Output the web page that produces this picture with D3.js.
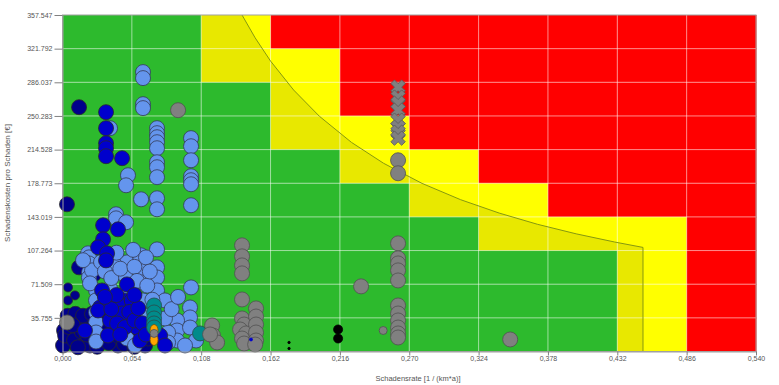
<!DOCTYPE html>
<html>
<head>
<meta charset="utf-8">
<script src="https://cdn.jsdelivr.net/npm/d3@7"></script>
<style>
  body { margin: 0; background: #fff; }
  svg { display: block; font-family: "Liberation Sans", Arial, sans-serif; }
</style>
</head>
<body>
<svg id="chart"></svg>
<script>
// axis ticks (rate in 1/(km*a), costs in EUR)
const xTicks = [0, 0.054, 0.108, 0.162, 0.216, 0.270, 0.324, 0.378, 0.432, 0.486, 0.540];
const yTicks = [35755, 71509, 107264, 143019, 178773, 214528, 250283, 286037, 321792, 357547];

// risk matrix, top row first, one letter per column (g = green, y = yellow, r = red)
const zoneRows = [
  "ggyrrrrrrr",
  "ggyyrrrrrr",
  "gggyrrrrrr",
  "gggyyrrrrr",
  "ggggyyrrrr",
  "gggggyyrrr",
  "ggggggyyyr",
  "ggggggggyr",
  "ggggggggyr",
  "ggggggggyr"
];

// limit line
const limitCurve = [
  [0.1398, 357547], [0.150, 333300], [0.162, 308600], [0.180, 277800], [0.200, 250000],
  [0.225, 222200], [0.250, 200000], [0.280, 178600], [0.310, 161300], [0.340, 147100],
  [0.370, 135100], [0.400, 125000], [0.430, 116300], [0.452, 110600], [0.452, 0]
];

// points [rate, costs]
const navy = [
  [0.0129, 259600], [0.0035, 156400], [0.0129, 89400],
  [0.0012, 22300], [0.0027, 11700], [0.0058, 33000], [0.0074, 19200], [0.0105, 7400],
  [0.0136, 26600], [0.0167, 14900], [0.0199, 34100], [0.0214, 6400], [0.0292, 27700],
  [0.0323, 11700], [0.0386, 20200], [0.0432, 6400], [0.0541, 16000], [0.0643, 6400],
  [0.0666, 13800], [0.0074, 37200], [0.0004, 6400],
  [0.0020, 17000], [0.0050, 26000], [0.0090, 12000], [0.0120, 34000], [0.0150, 21000],
  [0.0180, 8000], [0.0210, 26000], [0.0240, 16000], [0.0270, 5000], [0.0300, 36000],
  [0.0330, 24000], [0.0360, 9000], [0.0400, 30000], [0.0440, 16000], [0.0480, 8000],
  [0.0520, 28000], [0.0560, 5000], [0.0600, 20000], [0.0040, 38000], [0.0100, 40000],
  [0.0160, 38000], [0.0230, 40000], [0.0120, 4500], [0.0080, 28000], [0.0190, 18000]
];
const navySmall = [[0.0261, 79800], [0.0043, 68100], [0.0097, 59600], [0.0043, 54300]];

const cornflower = [
  [0.0627, 296900], [0.0627, 290500], [0.0627, 262800], [0.0627, 258600],
  [0.0736, 237300], [0.0736, 232000], [0.0736, 227700], [0.0736, 222400], [0.0736, 216000],
  [0.0736, 201100], [0.0736, 195800], [0.0736, 185200], [0.0736, 162800], [0.0736, 151100],
  [0.1001, 226700], [0.1001, 218100], [0.1001, 203200], [0.1001, 186200], [0.1001, 182000],
  [0.1001, 177700], [0.1001, 155400],
  [0.0370, 237300], [0.0510, 187300], [0.0495, 176600], [0.0612, 161700],
  [0.0417, 145800], [0.0417, 141500], [0.0495, 137300],
  [0.0736, 108500], [0.0612, 102200], [0.0199, 104300],
  [0.0206, 100000], [0.0206, 93600], [0.0206, 84100], [0.0206, 78700],
  [0.0502, 94700], [0.0604, 96800], [0.0604, 88300], [0.0736, 89400], [0.0736, 78700], [0.0736, 64900],
  [0.1001, 68100], [0.0993, 46800], [0.0993, 36200], [0.0892, 33000], [0.0892, 22300], [0.0892, 11700],
  [0.0822, 20200], [0.0993, 25500], [0.1040, 11700],
  [0.0261, 64900], [0.0261, 54300], [0.0261, 41500], [0.0261, 30900], [0.0261, 20200], [0.0261, 10600],
  [0.0502, 62800], [0.0502, 48900], [0.0502, 35100], [0.0502, 24500], [0.0502, 13800],
  [0.0627, 73400], [0.0627, 54300], [0.0666, 38300], [0.0798, 54300], [0.0798, 35100], [0.0822, 9600],
  [0.0230, 86200], [0.0214, 72400], [0.0409, 91500], [0.0487, 80900], [0.0370, 67000],
  [0.0565, 6400], [0.0954, 6400],
  [0.0300, 95000], [0.0330, 85000], [0.0380, 78000], [0.0420, 105000], [0.0450, 88000],
  [0.0550, 108000], [0.0560, 90000], [0.0580, 75000], [0.0650, 100000], [0.0660, 70000],
  [0.0680, 85000], [0.0700, 55000], [0.0160, 97000], [0.0850, 45000], [0.0900, 58000]
];

const mediumBlue = [
  [0.0339, 254300], [0.0339, 237300], [0.0339, 221300], [0.0339, 216000], [0.0339, 207500], [0.0464, 205400],
  [0.0316, 134100], [0.0432, 129800], [0.0316, 119200], [0.0277, 110700], [0.0347, 104300], [0.0339, 96800],
  [0.0502, 71300], [0.0479, 54300], [0.0308, 64900], [0.0432, 51100], [0.0464, 40400], [0.0370, 33000],
  [0.0425, 29800], [0.0580, 25500], [0.0604, 11700], [0.0292, 46800], [0.0682, 22300], [0.0760, 17000],
  [0.0798, 6400], [0.0354, 17000], [0.0175, 22300], [0.0277, 43600], [0.0539, 54300], [0.0487, 25900],
  [0.0380, 45000], [0.0450, 18000], [0.0520, 42000], [0.0560, 33000], [0.0590, 46000],
  [0.0620, 30000], [0.0650, 18000], [0.0420, 60000], [0.0330, 58000], [0.0560, 60000]
];

const teal = [[0.0713, 48900], [0.0713, 41500], [0.0713, 35100], [0.0713, 29800], [0.0713, 25500], [0.1071, 19200]];
const orange = [[0.0713, 22300], [0.0713, 12800]];

const gray = [
  [0.0900, 256400], [0.0035, 30900],
  [0.1165, 27700], [0.1172, 17000], [0.1204, 9600], [0.1149, 18100],
  [0.1398, 112800], [0.1398, 101100], [0.1398, 91500], [0.1398, 83000], [0.1398, 55300],
  [0.1398, 35100], [0.1414, 28700], [0.1383, 23400], [0.1430, 19200], [0.1398, 13800], [0.1414, 8500],
  [0.1507, 45800], [0.1507, 37200], [0.1507, 28700], [0.1507, 20200], [0.1507, 11700], [0.1500, 7400],
  [0.2325, 69200],
  [0.2613, 203200], [0.2613, 189400], [0.2613, 114900], [0.2613, 99000], [0.2613, 93600], [0.2613, 86200],
  [0.2613, 75500], [0.2613, 48900], [0.2613, 40400], [0.2613, 33000], [0.2613, 25500], [0.2613, 19200],
  [0.2613, 14900],
  [0.3486, 12800]
];
const graySmall = [[0.2497, 22300], [0.0713, 19200]];
const grayX = [[0.2613, 280900], [0.2613, 270300], [0.2613, 263900], [0.2613, 256400],
               [0.2613, 245800], [0.2613, 238400], [0.2613, 233000], [0.2613, 226700]];
const black = [[0.2146, 23400], [0.2146, 13800]];
const blackTiny = [[0.1764, 9600], [0.1764, 3200]];
const blueTiny = [[0.1468, 12800]];

const W = 779, H = 385;
const svg = d3.select("#chart").attr("width", W).attr("height", H);

const x = d3.scaleLinear().domain([0, 0.540]).range([62.5, 756]);
const y = d3.scaleLinear().domain([0, 357547]).range([351.5, 15]);

const loc = d3.formatLocale({ decimal: ",", thousands: ".", grouping: [3], currency: ["", " €"] });
const fmtX = loc.format(".3f");
const fmtY = loc.format(",.0f");

const zoneColor = { g: "#32cd32", y: "#ffff00", r: "#ff0000" };
const yBounds = [0].concat(yTicks);

// zone cells
const cells = [];
zoneRows.forEach((row, i) => {
  row.split("").forEach((c, j) => {
    cells.push({ x0: xTicks[j], x1: xTicks[j + 1], y0: yBounds[9 - i], y1: yBounds[10 - i], c: c });
  });
});
svg.append("g").selectAll("rect")
  .data(cells)
  .enter()
  .append("rect")
  .attr("x", d => x(d.x0))
  .attr("y", d => y(d.y1))
  .attr("width", d => x(d.x1) - x(d.x0) + 0.5)
  .attr("height", d => y(d.y0) - y(d.y1) + 0.5)
  .attr("fill", d => zoneColor[d.c]);

// shaded area under the limit line
const areaPts = [[0, 0], [0, 357547]].concat(limitCurve);
svg.append("path")
  .attr("d", d3.line().x(d => x(d[0])).y(d => y(d[1]))(areaPts) + "Z")
  .attr("fill", "#000")
  .attr("fill-opacity", 0.09);

// grid
const grid = svg.append("g").attr("stroke", "#fff").attr("stroke-opacity", 0.55);
grid.selectAll("line.v").data(xTicks.slice(1, -1)).enter().append("line")
  .attr("x1", d => x(d)).attr("x2", d => x(d))
  .attr("y1", y(0)).attr("y2", y(357547));
grid.selectAll("line.h").data(yTicks.slice(0, -1)).enter().append("line")
  .attr("x1", x(0)).attr("x2", x(0.540))
  .attr("y1", d => y(d)).attr("y2", d => y(d));

// limit line
svg.append("path")
  .attr("d", d3.line().x(d => x(d[0])).y(d => y(d[1]))(limitCurve))
  .attr("fill", "none")
  .attr("stroke", "#86980f")
  .attr("stroke-width", 1);

// frame
svg.append("rect")
  .attr("x", x(0)).attr("y", y(357547))
  .attr("width", x(0.540) - x(0)).attr("height", y(0) - y(357547))
  .attr("fill", "none").attr("stroke", "#a0a0a0");

// points
const pts = svg.append("g");
function dots(data, fill, r, stroke) {
  pts.append("g").selectAll("circle")
    .data(data)
    .enter()
    .append("circle")
    .attr("cx", d => x(d[0]))
    .attr("cy", d => y(d[1]))
    .attr("r", r)
    .attr("fill", fill)
    .attr("stroke", stroke || "#2a2a2a")
    .attr("stroke-width", 0.8);
}
dots(navy, "#00008b", 7.5);
dots(navySmall, "#00008b", 4.5);
dots(cornflower, "#6495ed", 7.5, "#333a55");
dots(mediumBlue, "#0000cd", 7.5);
dots(teal, "#008b8b", 7.5, "#2a4a4a");
dots(gray, "#808080", 7.5, "#505050");

pts.append("g").selectAll("ellipse")
  .data(orange)
  .enter()
  .append("ellipse")
  .attr("cx", d => x(d[0]))
  .attr("cy", d => y(d[1]))
  .attr("rx", 4)
  .attr("ry", 6)
  .attr("fill", "#ffa500")
  .attr("stroke", "#7a5000")
  .attr("stroke-width", 0.8);

dots(graySmall, "#808080", 4, "#505050");
dots(black, "#000", 4.5, "#000");
dots(blackTiny, "#000", 1.2, "#000");
dots(blueTiny, "#0000cd", 1.5, "#0000cd");

pts.append("g").selectAll("path")
  .data(grayX)
  .enter()
  .append("path")
  .attr("d", d3.symbol(d3.symbolCross, 130))
  .attr("transform", d => `translate(${x(d[0])},${y(d[1])}) rotate(45)`)
  .attr("fill", "#808080")
  .attr("stroke", "#5a5a5a")
  .attr("stroke-width", 0.8);

// axes
const gx = svg.append("g")
  .attr("transform", `translate(0,${y(0)})`)
  .call(d3.axisBottom(x).tickValues(xTicks).tickFormat(fmtX).tickSize(4).tickSizeOuter(0).tickPadding(1));
const gy = svg.append("g")
  .attr("transform", `translate(${x(0)},0)`)
  .call(d3.axisLeft(y).tickValues(yTicks).tickFormat(fmtY).tickSize(8).tickSizeOuter(0).tickPadding(2));

[gx, gy].forEach(g => {
  g.select(".domain").attr("stroke", "#a0a0a0");
  g.selectAll(".tick line").attr("stroke", "#808080");
  g.selectAll(".tick text")
    .attr("fill", "#555")
    .style("font-size", "7px")
    .style("font-family", "'Liberation Sans', Arial, sans-serif");
});

// titles
svg.append("text")
  .attr("x", 418)
  .attr("y", 381)
  .attr("text-anchor", "middle")
  .attr("fill", "#555")
  .style("font-size", "7.5px")
  .text("Schadensrate [1  / (km*a)]");

svg.append("text")
  .attr("transform", "translate(10,183) rotate(-90)")
  .attr("text-anchor", "middle")
  .attr("fill", "#555")
  .style("font-size", "8px")
  .text("Schadenskosten pro Schaden [€]");
</script>
</body>
</html>
